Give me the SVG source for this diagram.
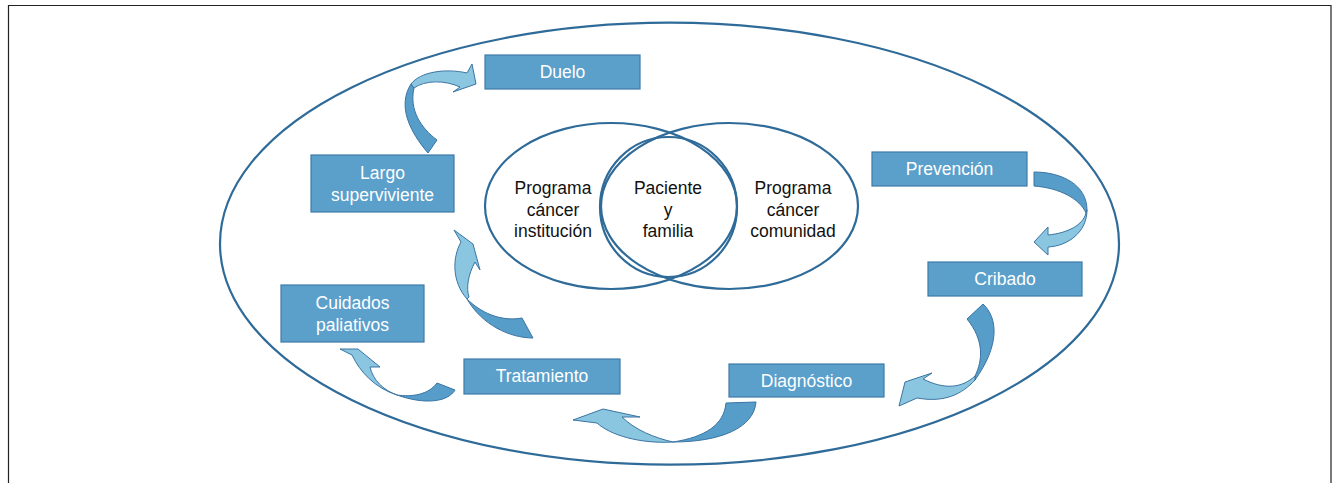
<svg xmlns="http://www.w3.org/2000/svg" width="1333" height="483" viewBox="0 0 1333 483">
<style>
.frame{fill:none;stroke:#222;stroke-width:1.2}
.ring{fill:none;stroke:#2f6b99;stroke-width:2.2}
.box{fill:#5aa0cb;stroke:#3f7aa8;stroke-width:1.2}
.bt{font-family:"Liberation Sans",Arial,sans-serif;font-size:17.5px;fill:#fff;text-anchor:middle}
.vt{font-family:"Liberation Sans",Arial,sans-serif;font-size:17.5px;fill:#111;text-anchor:middle}
.dk{fill:#579dca;stroke:#3a74a3;stroke-width:1;stroke-linejoin:round}
.lt{fill:#8bc6e1;stroke:#3a74a3;stroke-width:1;stroke-linejoin:round}
</style>
<rect width="1333" height="483" fill="#fff"/>
<path class="frame" d="M8.5,483 V5.5 H1331 V483"/>
<ellipse class="ring" cx="669.5" cy="243.7" rx="449.5" ry="221"/>

<g id="venn">
<ellipse class="ring" cx="611" cy="206" rx="126" ry="83"/>
<ellipse class="ring" cx="729.5" cy="206" rx="128.5" ry="83"/>
<ellipse class="ring" cx="668.5" cy="207" rx="68.5" ry="70"/>
</g>
<g id="programa-institucion">
<text class="vt" x="553" y="194">Programa</text>
<text class="vt" x="553" y="215.5">cáncer</text>
<text class="vt" x="553" y="237">institución</text>
</g>
<g id="paciente-familia">
<text class="vt" x="668" y="194">Paciente</text>
<text class="vt" x="668" y="215.5">y</text>
<text class="vt" x="668" y="237">familia</text>
</g>
<g id="programa-comunidad">
<text class="vt" x="793" y="194">Programa</text>
<text class="vt" x="793" y="215.5">cáncer</text>
<text class="vt" x="793" y="237">comunidad</text>
</g>

<g id="duelo">
<rect class="box" x="485" y="55" width="155" height="34"/>
<text class="bt" x="562.5" y="78">Duelo</text>
</g>
<g id="prevencion">
<rect class="box" x="872" y="152" width="155" height="34"/>
<text class="bt" x="949.5" y="175">Prevención</text>
</g>
<g id="cribado">
<rect class="box" x="928" y="262" width="154" height="34"/>
<text class="bt" x="1005" y="284.5">Cribado</text>
</g>
<g id="diagnostico">
<rect class="box" x="729" y="364" width="155" height="33"/>
<text class="bt" x="806.5" y="386.5">Diagnóstico</text>
</g>
<g id="tratamiento">
<rect class="box" x="464" y="359" width="156" height="35"/>
<text class="bt" x="542" y="382.3">Tratamiento</text>
</g>
<g id="cuidados">
<rect class="box" x="281" y="285" width="143" height="57"/>
<text class="bt" x="352.5" y="309">Cuidados</text>
<text class="bt" x="352.5" y="330.5">paliativos</text>
</g>
<g id="largo">
<rect class="box" x="311" y="155" width="143" height="57"/>
<text class="bt" x="382.5" y="179">Largo</text>
<text class="bt" x="382.5" y="201">superviviente</text>
</g>

<g id="connectors">
<!-- Largo -> Duelo -->
<path class="dk" d="M428,153 C410,132 397,106 411,84 L414,88 C409,110 421,128 437,140 Z"/>
<path class="lt" d="M411,84 C420,72 445,68 467,73 L472,64 L476,84 L453,92 L460,87 C445,80 425,80 414,88 Z"/>
<!-- Prevencion -> Cribado -->
<path class="dk" d="M1034,172 C1062,172 1087,185 1087,210 L1086,213 C1080,199 1060,188 1034,186 Z"/>
<path class="lt" d="M1087,210 C1087,232 1068,246 1048,247 L1048,255 L1034,242 L1048,227 L1048,235 C1068,233 1083,225 1086,213 Z"/>
<!-- Cribado -> Diagnostico -->
<path class="dk" d="M983,304 C998,318 1000,345 975,380 L975,376 C983,360 984,340 967,319 Z"/>
<path class="lt" d="M975,380 C962,394 945,403 917,398 L899,406 L905,382 L932,373 L923,379 C945,390 962,388 975,376 Z"/>
<!-- Diagnostico -> Tratamiento -->
<path class="dk" d="M756,402 C754,428 720,442 673,442 C705,437 724,425 726,403 Z"/>
<path class="lt" d="M673,442 C640,444 610,435 597,423 L573,420 L603,409 L640,417 L622,417 C635,430 655,438 673,442 Z"/>
<!-- Tratamiento -> Cuidados paliativos -->
<path class="dk" d="M455,390 C448,402 425,405 397,395 C412,397 428,395 437,383 Z"/>
<path class="lt" d="M397,395 C375,388 360,372 352,355 L340,349 L358,349 L380,367 L370,367 C373,380 383,390 397,395 Z"/>
<!-- Tratamiento -> Largo superviviente -->
<path class="dk" d="M533,338 C510,338 482,325 467,299 C480,312 500,322 522,318 Z"/>
<path class="lt" d="M467,299 C452,282 452,258 461,242 L454,230 L473,244 L480,270 L475,262 C468,275 466,288 469,297 Z"/>
</g>
</svg>
